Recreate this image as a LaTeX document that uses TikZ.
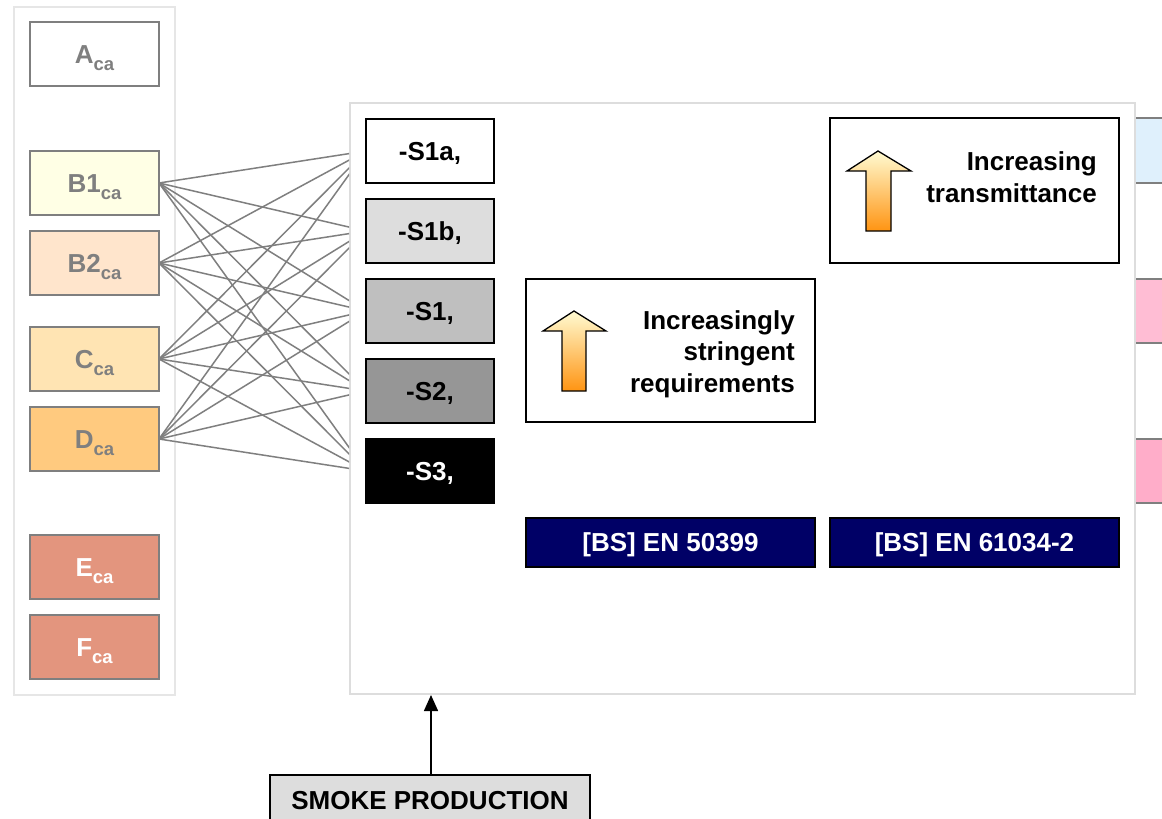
\documentclass[tikz,border=0pt]{standalone}
\usepackage{fontspec}
\setmainfont{Liberation Sans}
\usetikzlibrary{arrows.meta}
\definecolor{labgray}{HTML}{7F7F7F}
\definecolor{panelgray}{HTML}{E6E6E6}
\definecolor{bigborder}{HTML}{DDDDDD}
\definecolor{fB}{HTML}{FFFFE5}
\definecolor{fBB}{HTML}{FFE5CC}
\definecolor{fC}{HTML}{FFE4B3}
\definecolor{fD}{HTML}{FFCA7F}
\definecolor{fE}{HTML}{E3957E}
\definecolor{sA}{HTML}{DDDDDD}
\definecolor{sB}{HTML}{BFBFBF}
\definecolor{sC}{HTML}{969696}
\definecolor{navy}{HTML}{000066}
\definecolor{lblue}{HTML}{DFF0FC}
\definecolor{pinkA}{HTML}{FFBDD4}
\definecolor{pinkB}{HTML}{FFADC9}
\definecolor{arrtop}{HTML}{FFFBD2}
\definecolor{arrbot}{HTML}{FF9412}
\newcommand\catlab[2]{#1\raisebox{-7.5pt}{\fontsize{18.5}{18.5}\selectfont #2}}
\begin{document}
\begin{tikzpicture}[x=1pt,y=-1pt,
  bigfont/.style={font=\fontsize{26}{31.5}\selectfont\bfseries},
  panel/.style={draw=panelgray,line width=1.5pt,fill=white,minimum width=161pt,minimum height=688pt,inner sep=0pt,outer sep=0pt},
  catbox/.style={draw=labgray,line width=1.5pt,minimum width=129pt,minimum height=64pt,inner sep=0pt,outer sep=0pt,bigfont,text=labgray,text height=18.7pt,text depth=0pt},
  sbox/.style={draw=black,line width=1.5pt,minimum width=128pt,minimum height=64pt,inner sep=0pt,outer sep=0pt,bigfont,text height=18.7pt,text depth=0pt},
  framebox/.style={draw=black,line width=1.5pt,fill=white,inner sep=0pt,outer sep=0pt},
  enbox/.style={draw=black,line width=1.5pt,fill=navy,text=white,minimum width=289pt,minimum height=49pt,inner sep=0pt,outer sep=0pt,bigfont,text height=18.7pt,text depth=0pt},
  conn/.style={draw=labgray,line width=1.5pt},
  blockarrow/.style={draw=black,line width=1.3pt,top color=arrtop,bottom color=arrbot,line join=miter}
]
\useasboundingbox (0,0) rectangle (1162,819);
\clip (0,0) rectangle (1162,819);
\fill[white] (0,0) rectangle (1162,819);

% left panel
\node[panel] (leftpanel) at (94.5,351) {};
\node[catbox,fill=white] (cA) at (94.5,54) {\catlab{A}{ca}};
\node[catbox,fill=fB] (cB1) at (94.5,183) {\catlab{B1}{ca}};
\node[catbox,fill=fBB] (cB2) at (94.5,263) {\catlab{B2}{ca}};
\node[catbox,fill=fC] (cC) at (94.5,359) {\catlab{C}{ca}};
\node[catbox,fill=fD] (cD) at (94.5,439) {\catlab{D}{ca}};
\node[catbox,fill=fE,text=white] (cE) at (94.5,567) {\catlab{E}{ca}};
\node[catbox,fill=fE,text=white] (cF) at (94.5,647) {\catlab{F}{ca}};

% right partial boxes
\fill[lblue] (1136,118) rectangle (1170,183);
\draw[labgray,line width=1.5pt] (1136,118) -- (1170,118) (1136,183) -- (1170,183);
\fill[pinkA] (1136,279) rectangle (1170,343);
\draw[labgray,line width=1.5pt] (1136,279) -- (1170,279) (1136,343) -- (1170,343);
\fill[pinkB] (1136,439) rectangle (1170,503);
\draw[labgray,line width=1.5pt] (1136,439) -- (1170,439) (1136,503) -- (1170,503);

% big box
\node[draw=bigborder,line width=2pt,fill=white,minimum width=785pt,minimum height=591pt,inner sep=0pt,outer sep=0pt] (big) at (742.5,398.5) {};

% S boxes
\node[sbox,fill=white] (S1a) at (430,151) {-S1a,};
\node[sbox,fill=sA] (S1b) at (430,231) {-S1b,};
\node[sbox,fill=sB] (S1) at (430,311) {-S1,};
\node[sbox,fill=sC] (S2) at (430,391) {-S2,};
\node[sbox,fill=black,text=white] (S3) at (430,471) {-S3,};

% connectors (hidden behind the big box)
\begin{scope}
\clip (150,0) rectangle (349,819);
\foreach \s in {cB1,cB2,cC,cD}{
  \foreach \t in {S1a,S1b,S1,S2,S3}{
    \draw[conn] (\s.east) -- (\t.west);
  }
}
\end{scope}

% stringent requirements box
\node[framebox,minimum width=289pt,minimum height=143pt] (reqbox) at (670.5,350.5) {};
\draw[blockarrow] (562,391) -- (562,331) -- (543,331) -- (574,311) -- (606,331) -- (586,331) -- (586,391) -- cycle;
\node[bigfont,align=right,anchor=east,inner sep=0pt] (reqtext) at (795,354) {Increasingly\\stringent\\requirements};

% transmittance box
\node[framebox,minimum width=289pt,minimum height=145pt] (trbox) at (974.5,190.5) {};
\draw[blockarrow] (866,231) -- (866,171) -- (847,171) -- (878,151) -- (911,171) -- (891,171) -- (891,231) -- cycle;
\node[bigfont,align=right,anchor=east,inner sep=0pt] (trtext) at (1097,177) {Increasing\\transmittance};

% standards
\node[enbox] (en1) at (670.5,542.5) {[BS] EN 50399};
\node[enbox] (en2) at (974.5,542.5) {[BS] EN 61034-2};

% smoke production
\node[draw=black,line width=1.5pt,fill=sA,minimum width=320pt,minimum height=50pt,inner sep=0pt,outer sep=0pt,bigfont,text height=18.7pt,text depth=0pt] (smoke) at (430,800) {SMOKE PRODUCTION};
\draw[line width=1.5pt,-{Triangle[length=16pt,width=14pt]}] (smoke.north -| 431,0) -- (431,695);
\end{tikzpicture}
\end{document}
